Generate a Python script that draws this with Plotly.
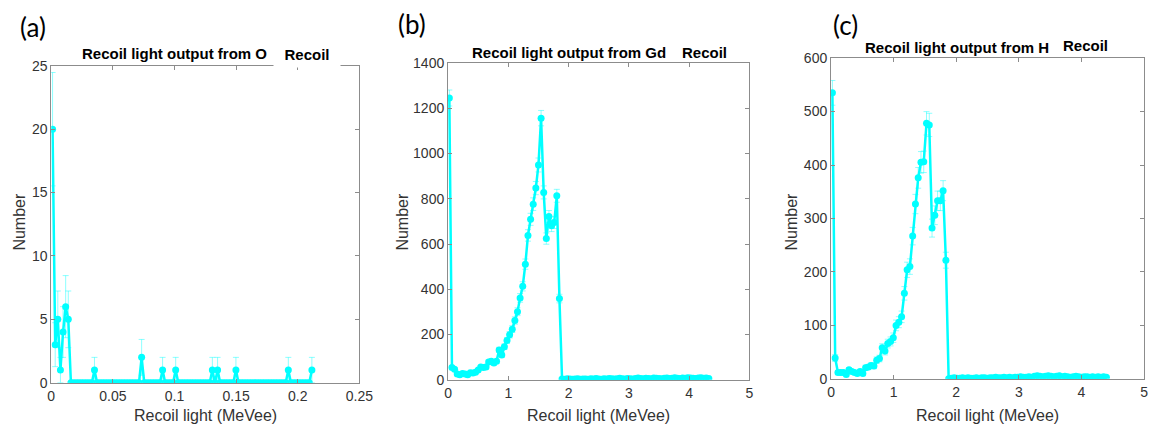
import numpy as np
import plotly.graph_objects as go

W, H = 1165, 436

# ---------------- data ----------------
bin_width_o = 0.002125
bin_width_gd = 0.0435
bin_width_h = 0.0442

counts_o = [20, 3, 5, 1, 4, 6, 5, 0, 0, 0,
            0, 0, 0, 0, 0, 0, 1, 0, 0, 0,
            0, 0, 0, 0, 0, 0, 0, 0, 0, 0,
            0, 0, 0, 0, 2, 0, 0, 0, 0, 0,
            0, 0, 1, 0, 0, 0, 0, 1, 0, 0,
            0, 0, 0, 0, 0, 0, 0, 0, 0, 0,
            0, 1, 0, 1, 0, 0, 0, 0, 0, 0,
            1, 0, 0, 0, 0, 0, 0, 0, 0, 0,
            0, 0, 0, 0, 0, 0, 0, 0, 0, 0,
            1, 0, 0, 0, 0, 0, 0, 0, 0, 1]

counts_gd = [1245, 54, 47, 26, 23, 28, 26, 23, 31, 30,
             34, 43, 57, 54, 57, 79, 82, 74, 82, 132,
             110, 146, 174, 199, 224, 262, 301, 362, 413, 511,
             638, 709, 776, 847, 949, 1156, 828, 624, 721, 681,
             695, 813, 359,
             4, 3, 5, 4, 3, 4, 5, 3, 4, 4,
             3, 5, 4, 6, 4, 3, 5, 4, 6, 5,
             4, 5, 7, 5, 4, 6, 5, 4, 6, 8,
             6, 5, 7, 6, 5, 8, 7, 6, 5, 7,
             8, 6, 7, 9, 7, 6, 8, 7, 9, 8,
             7, 6, 8, 9, 7, 8, 6]

counts_h = [535, 39, 12, 12, 12, 8, 17, 14, 12, 10,
            14, 10, 21, 22, 25, 24, 35, 38, 58, 52,
            66, 70, 77, 100, 106, 116, 160, 204, 210, 267,
            327, 376, 405, 406, 478, 475, 282, 306, 333, 333,
            352, 222,
            0, 1, 2, 1, 1, 2, 1, 2, 1, 1,
            2, 1, 2, 2, 1, 2, 2, 3, 2, 2,
            3, 2, 3, 2, 3, 3, 4, 3, 3, 4,
            3, 5, 6, 5, 4, 5, 6, 5, 4, 5,
            6, 4, 5, 4, 3, 4, 5, 4, 3, 4,
            4, 3, 4, 3, 4, 3, 4, 3]

panel_labels = ["(a)", "(b)", "(c)"]
titles = ["Recoil light output from O", "Recoil light output from Gd", "Recoil light output from H"]
x_title = "Recoil light (MeVee)"
y_title = "Number"

# ---------------- layout geometry (pixels) ----------------
panels = [
    dict(counts=counts_o, bw=bin_width_o, px=(48, 361), py=(60, 389), xr=[0, 0.25], dx=0.05, yr=[0, 25], dy=5),
    dict(counts=counts_gd, bw=bin_width_gd, px=(451, 757), py=(57, 386), xr=[0, 5], dx=1, yr=[0, 1400], dy=200),
    dict(counts=counts_h, bw=bin_width_h, px=(840, 1158), py=(52, 385), xr=[0, 5], dx=1, yr=[0, 600], dy=100),
]

def fx(p):
    return p / W

def fy(p):
    return 1 - p / H

CYAN = "#00FFFF"
AXCOL = "#8c8c8c"
TXT = "#333333"
SANS = "Liberation Sans, Arial, sans-serif"

fig = go.Figure()
layout = dict(
    width=W, height=H, margin=dict(l=0, r=0, t=0, b=0),
    paper_bgcolor="white", plot_bgcolor="white", showlegend=False,
    font=dict(family=SANS, size=14, color=TXT),
)

annotations = []
for k, p in enumerate(panels):
    n = k + 1
    sfx = "" if n == 1 else str(n)
    counts = np.array(p["counts"], dtype=float)
    x = (np.arange(len(counts)) + 0.5) * p["bw"]
    err = np.sqrt(counts)
    fig.add_trace(go.Scatter(
        x=x, y=counts, mode="lines+markers",
        line=dict(color=CYAN, width=2.5),
        marker=dict(color=CYAN, size=7),
        error_y=dict(type="data", array=err, visible=True,
                     color="rgba(0,255,255,0.45)", thickness=1, width=3),
        xaxis="x" + sfx, yaxis="y" + sfx, cliponaxis=True,
    ))
    axcommon = dict(showgrid=False, zeroline=False, showline=True, linecolor=AXCOL, linewidth=1,
                    ticks="inside", ticklen=4, tickcolor=AXCOL, mirror="ticks",
                    tickfont=dict(size=14, color=TXT, family=SANS))
    layout["xaxis" + sfx] = dict(domain=[fx(p["px"][0]), fx(p["px"][1])], range=p["xr"],
                                 dtick=p["dx"], tick0=0, anchor="y" + sfx, **axcommon)
    layout["yaxis" + sfx] = dict(domain=[fy(p["py"][1]), fy(p["py"][0])], range=p["yr"],
                                 dtick=p["dy"], tick0=0, anchor="x" + sfx, **axcommon)

    annotations.append(dict(text=x_title, x=fx((p["px"][0] + p["px"][1]) / 2), y=fy(423),
                            xref="paper", yref="paper", showarrow=False,
                            xanchor="center", yanchor="middle",
                            font=dict(size=16, color=TXT, family=SANS)))

for xc in (16, 405, 800):
    annotations.append(dict(text=y_title, x=fx(xc), y=fy(222), xref="paper", yref="paper",
                            showarrow=False, textangle=-90, xanchor="center", yanchor="middle",
                            font=dict(size=16, color=TXT, family=SANS)))

title_pos = [(173, 47), (574, 46), (968, 41)]
recoil_pos = [(308, 48), (712, 46), (1098, 39)]
for k in range(3):
    annotations.append(dict(text="<b>%s</b>" % titles[k], x=fx(title_pos[k][0]), y=fy(title_pos[k][1]),
                            xref="paper", yref="paper", showarrow=False,
                            xanchor="center", yanchor="middle",
                            font=dict(size=15, color="black", family=SANS)))
    extra = dict(bgcolor="white", width=64, height=24) if k == 0 else {}
    annotations.append(dict(text="<b>Recoil</b>", x=fx(recoil_pos[k][0]), y=fy(recoil_pos[k][1]),
                            xref="paper", yref="paper", showarrow=False,
                            xanchor="center", yanchor="middle",
                            font=dict(size=15, color="black", family=SANS), **extra))

letter_pos = [(29, 20), (414, 17), (855, 18)]
for k in range(3):
    annotations.append(dict(text=panel_labels[k], x=fx(letter_pos[k][0]), y=fy(letter_pos[k][1]),
                            xref="paper", yref="paper", showarrow=False,
                            xanchor="center", yanchor="middle",
                            font=dict(size=26, color="black", family="Lato, Noto Sans, sans-serif")))

layout["annotations"] = annotations
fig.update_layout(**layout)
fig.write_html("out.html")
